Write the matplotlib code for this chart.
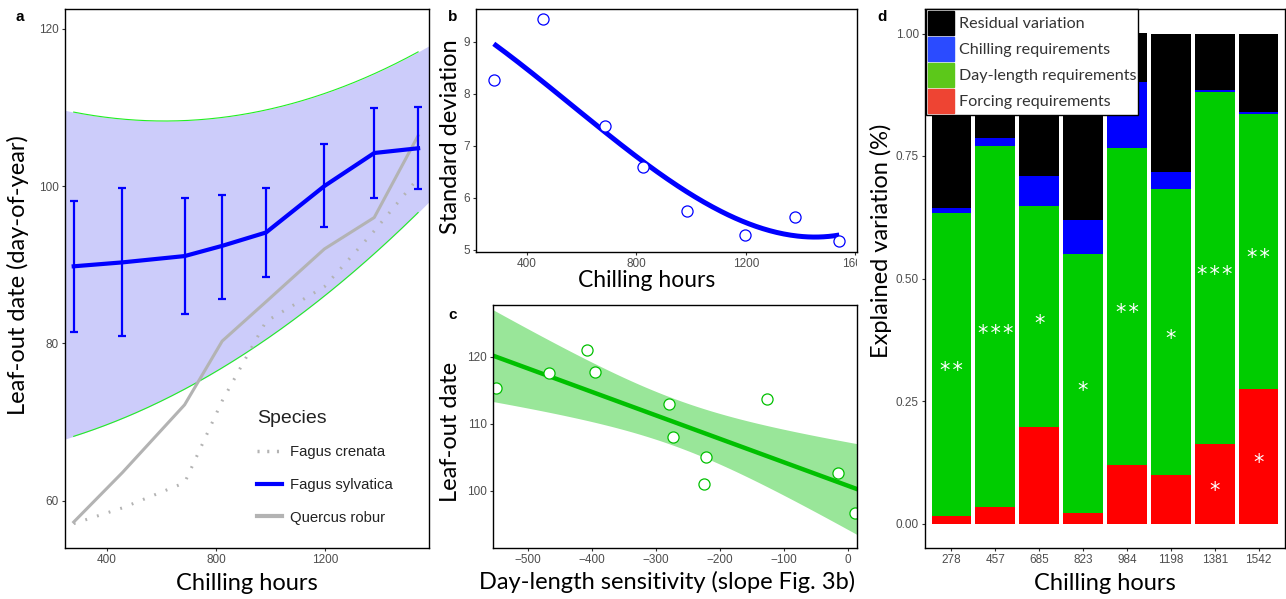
import matplotlib
matplotlib.use('Agg')
import matplotlib.pyplot as plt
import numpy as np
from matplotlib.lines import Line2D
from matplotlib.patches import Patch

plt.rcParams['font.family'] = ['Liberation Sans', 'DejaVu Sans']

# shared chilling levels
chill = [278, 457, 685, 823, 984, 1198, 1381, 1542]
chill_labels = ['278', '457', '685', '823', '984', '1198', '1381', '1542']

# panel a
sylv_mean = [89.8, 90.3, 91.1, 92.4, 94.1, 100.0, 104.2, 104.8]
sylv_low = [81.5, 80.9, 83.7, 85.7, 88.4, 94.8, 98.5, 99.6]
sylv_high = [98.1, 99.8, 98.5, 98.9, 99.8, 105.3, 109.9, 110.0]
crenata = [57.1, 59.1, 62.3, 72.7, 82.8, 87.2, 94.3, 101.0]
robur = [57.3, 63.6, 72.2, 80.3, 85.3, 92.0, 96.0, 106.4]
band_upper = [109.1, 108.8, 108.6, 108.8, 109.5, 111.2, 114.6, 117.1]
band_lower = [68.5, 70.5, 73.6, 76.5, 80.5, 86.7, 92.2, 95.8]

# panel b
sd_points = [8.27, 9.43, 7.38, 6.60, 5.75, 5.29, 5.63, 5.17]
sd_curve = [8.97, 8.21, 7.28, 6.73, 6.09, 5.52, 5.29, 5.28]

# panel c
dl_sens = [-550, -468, -408, -396, -280, -274, -222, -225, -126, -15, 11]
dl_leaf = [115.3, 117.6, 121.0, 117.7, 113.0, 108.0, 105.0, 101.0, 113.7, 102.6, 96.7]

# panel d
forcing = [0.016, 0.033, 0.196, 0.021, 0.120, 0.100, 0.163, 0.275]
daylength = [0.618, 0.737, 0.452, 0.529, 0.646, 0.582, 0.717, 0.561]
chilling = [0.010, 0.017, 0.061, 0.069, 0.136, 0.035, 0.004, 0.003]
residual = [0.356, 0.213, 0.291, 0.381, 0.098, 0.281, 0.114, 0.161]
sig_daylength = ['**', '***', '*', '*', '**', '*', '***', '**']
sig_forcing = ['', '', '', '', '', '', '*', '*']

TITLE_FONT = 'Lato'
TITLE_SIZE = 17
TICK_COLOR = '#4D4D4D'


def style_axes(ax):
    for sp in ax.spines.values():
        sp.set_color('black')
        sp.set_linewidth(1.0)
    ax.tick_params(labelsize=8.5, colors='#333333', labelcolor=TICK_COLOR,
                   length=2.5, width=0.8, pad=2)


def stars(label):
    # spread the asterisks a little, as in the original figure
    return '\u200a'.join(label)


fig = plt.figure(figsize=(12.86, 5.99), dpi=100)
W, H = 1286.0, 599.0


def add_ax(x0, y0, x1, y1):
    return fig.add_axes([x0 / W, 1 - y1 / H, (x1 - x0) / W, (y1 - y0) / H])


# ---------------- a ----------------
ax = add_ax(65, 9, 429, 548)
xs = np.linspace(246, 1582, 200)
cu = np.polyfit(chill, band_upper, 2)
cl = np.polyfit(chill, band_lower, 2)
ax.fill_between(xs, np.polyval(cl, xs), np.polyval(cu, xs), color='#CCCCFA', lw=0)
xg = np.linspace(chill[0], chill[-1], 200)
ax.plot(xg, np.polyval(cu, xg), color='#22EE22', lw=0.8)
ax.plot(xg, np.polyval(cl, xg), color='#22EE22', lw=0.8)
ax.plot(chill, crenata, color='#B3B3B3', lw=2.2, ls=(0, (0.6, 3.4)))
ax.plot(chill, robur, color='#B3B3B3', lw=2.2)
m = np.array(sylv_mean)
ax.errorbar(chill, sylv_mean, yerr=[m - np.array(sylv_low), np.array(sylv_high) - m],
            fmt='none', ecolor='#0000FF', elinewidth=1.6, capsize=3, capthick=1.6)
ax.plot(chill, sylv_mean, color='#0000FF', lw=3)
ax.set_xlim(246, 1582)
ax.set_ylim(54, 122.5)
ax.set_xticks([400, 800, 1200])
ax.set_yticks([60, 80, 100, 120])
style_axes(ax)
ax.set_xlabel('Chilling hours', family=TITLE_FONT, fontsize=TITLE_SIZE)
ax.set_ylabel('Leaf-out date (day-of-year)', family=TITLE_FONT, fontsize=TITLE_SIZE)
ax.xaxis.set_label_coords(0.5, -0.065)
ax.xaxis.label.set_va('center')
ax.yaxis.set_label_coords(-0.129, 0.506)
ax.yaxis.label.set_va('center')
handles = [Line2D([], [], color='#B3B3B3', lw=2.5, ls=(0, (0.6, 2.2))),
           Line2D([], [], color='#0000FF', lw=3),
           Line2D([], [], color='#B3B3B3', lw=3)]
leg = ax.legend(handles, ['Fagus crenata', 'Fagus sylvatica', 'Quercus robur'],
                title='Species', loc='upper left', bbox_to_anchor=(0.507, 0.27),
                frameon=False, fontsize=10.7, title_fontsize=14, handlelength=1.7,
                handletextpad=0.5, labelspacing=1.25, alignment='left', borderpad=0)
leg.get_title().set_color('#222222')
for t in leg.get_texts():
    t.set_color('#222222')
fig.text(15 / W, 1 - 17 / H, 'a', fontsize=11, fontweight='bold', ha='left', va='center')

# ---------------- b ----------------
ax = add_ax(476, 9, 857, 252)
cb = np.polyfit(chill, sd_curve, 3)
xb = np.linspace(chill[0], chill[-1], 200)
ax.plot(xb, np.polyval(cb, xb), color='#0000FF', lw=3.6, solid_capstyle='butt')
ax.plot(chill, sd_points, 'o', ms=8, mfc='white', mec='#0000FF', mew=0.9, ls='none')
ax.set_xlim(213, 1607)
ax.set_ylim(4.96, 9.63)
ax.set_xticks([400, 800, 1200, 1600])
ax.set_yticks([5, 6, 7, 8, 9])
style_axes(ax)
ax.set_xlabel('Chilling hours', family=TITLE_FONT, fontsize=16.5)
ax.set_ylabel('Standard deviation', family=TITLE_FONT, fontsize=TITLE_SIZE)
ax.xaxis.set_label_coords(0.449, -0.118)
ax.xaxis.label.set_va('center')
ax.yaxis.set_label_coords(-0.066, 0.473)
ax.yaxis.label.set_va('center')
fig.canvas.draw()
lab = ax.get_xticklabels()[-1]
lab.set_clip_on(True)
lab.set_clip_box(ax.bbox.expanded(1.0, 1.5))
fig.text(448 / W, 1 - 17 / H, 'b', fontsize=11, fontweight='bold', ha='left', va='center')

# ---------------- c ----------------
ax = add_ax(493, 305, 857, 548)
x = np.array(dl_sens, float)
y = np.array(dl_leaf, float)
n = len(x)
slope, icpt = np.polyfit(x, y, 1)
resid = y - (slope * x + icpt)
s = np.sqrt(np.sum(resid ** 2) / (n - 2))
sxx = np.sum((x - x.mean()) ** 2)
xc = np.linspace(-555, 14, 200)
fit = slope * xc + icpt
half = 2.262 * s * np.sqrt(1 / n + (xc - x.mean()) ** 2 / sxx)
ax.fill_between(xc, fit - half, fit + half, color='#99E699', lw=0)
ax.plot(xc, fit, color='#00C000', lw=3.2)
ax.plot(x, y, 'o', ms=8, mfc='white', mec='#00C000', mew=0.9, ls='none', clip_on=True)
ax.set_xlim(-555, 14)
ax.set_ylim(91.5, 127.7)
ax.set_xticks([-500, -400, -300, -200, -100, 0])
ax.set_yticks([100, 110, 120])
style_axes(ax)
ax.set_xlabel('Day-length sensitivity (slope Fig. 3b)', family=TITLE_FONT, fontsize=TITLE_SIZE)
ax.set_ylabel('Leaf-out date', family=TITLE_FONT, fontsize=TITLE_SIZE)
ax.xaxis.set_label_coords(0.478, -0.14)
ax.xaxis.label.set_va('center')
ax.yaxis.set_label_coords(-0.118, 0.477)
ax.yaxis.label.set_va('center')
fig.text(448 / W, 1 - 315 / H, 'c', fontsize=11, fontweight='bold', ha='left', va='center')

# ---------------- d ----------------
ax = add_ax(925, 9, 1285, 548)
pos = np.arange(1, len(chill) + 1)
b0 = np.zeros(len(pos))
for vals, col in [(forcing, '#FF0000'), (daylength, '#00CC00'),
                  (chilling, '#0000FF'), (residual, '#000000')]:
    ax.bar(pos, vals, bottom=b0, width=0.9, color=col, lw=0)
    b0 = b0 + np.array(vals)
for i in range(len(pos)):
    ymid = forcing[i] + daylength[i] / 2
    ax.annotate(stars(sig_daylength[i]), (pos[i], ymid), xytext=(0, -5),
                textcoords='offset points', ha='center', va='center',
                color='white', fontsize=15, family='DejaVu Sans')
    if sig_forcing[i]:
        ax.annotate(stars(sig_forcing[i]), (pos[i], forcing[i] / 2), xytext=(0, -5),
                    textcoords='offset points', ha='center', va='center',
                    color='white', fontsize=15, family='DejaVu Sans')
ax.set_xlim(0.4, 8.6)
ax.set_ylim(-0.05, 1.05)
ax.set_xticks(pos)
ax.set_xticklabels(chill_labels)
ax.set_yticks([0, 0.25, 0.5, 0.75, 1.0])
ax.set_yticklabels(['0.00', '0.25', '0.50', '0.75', '1.00'])
style_axes(ax)
ax.set_xlabel('Chilling hours', family=TITLE_FONT, fontsize=TITLE_SIZE)
ax.set_ylabel('Explained variation (%)', family=TITLE_FONT, fontsize=TITLE_SIZE)
ax.xaxis.set_label_coords(0.5, -0.065)
ax.xaxis.label.set_va('center')
ax.yaxis.set_label_coords(-0.122, 0.57)
ax.yaxis.label.set_va('center')
leg_handles = [Patch(color='#000000'), Patch(color='#2B4BFF'),
               Patch(color='#5CC81A'), Patch(color='#EE4433')]
leg = fig.legend(leg_handles, ['Residual variation', 'Chilling requirements',
                               'Day-length requirements', 'Forcing requirements'],
                 loc='upper left', bbox_to_anchor=(926 / W, 1 - 9 / H),
                 prop={'family': TITLE_FONT, 'size': 11.6}, handlelength=1.6,
                 handleheight=1.9, labelspacing=0.14, handletextpad=0.3,
                 borderpad=0.12, borderaxespad=0, fancybox=False, framealpha=1,
                 edgecolor='black')
leg.get_frame().set_linewidth(1.0)
leg.set_zorder(10)
for t in leg.get_texts():
    t.set_color('#333333')
fig.text(877 / W, 1 - 17 / H, 'd', fontsize=11, fontweight='bold', ha='left', va='center')

fig.savefig('out.png', dpi=100)
